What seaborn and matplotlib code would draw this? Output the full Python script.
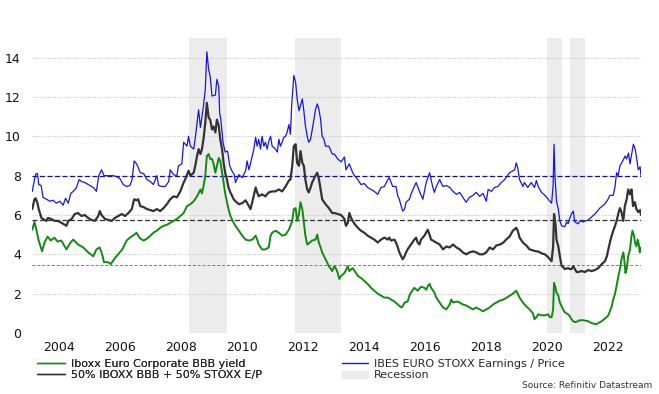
import numpy as np
import pandas as pd
import seaborn as sns
import matplotlib
matplotlib.use("Agg")
import matplotlib.pyplot as plt
from matplotlib.lines import Line2D
from matplotlib.patches import Patch

# ── Data (decimal years) ───────────────────────────────────────────────────────
blue_years = [
    2003.13, 2003.20, 2003.25, 2003.30, 2003.34, 2003.42, 2003.48, 2003.60, 2003.70, 2003.81,
    2003.92, 2004.03, 2004.14, 2004.22, 2004.31, 2004.39, 2004.47, 2004.58, 2004.66, 2004.75,
    2004.85, 2004.96, 2005.13, 2005.23, 2005.31, 2005.40, 2005.48, 2005.62, 2005.78, 2005.89,
    2006.00, 2006.11, 2006.22, 2006.33, 2006.40, 2006.47, 2006.55, 2006.67, 2006.78, 2006.89,
    2007.00, 2007.10, 2007.21, 2007.27, 2007.38, 2007.49, 2007.60, 2007.65, 2007.76, 2007.87,
    2007.92, 2008.03, 2008.09, 2008.20, 2008.25, 2008.31, 2008.42, 2008.47, 2008.53, 2008.58,
    2008.64, 2008.74, 2008.80, 2008.85, 2008.91, 2008.96, 2009.02, 2009.13, 2009.18, 2009.24,
    2009.27, 2009.31, 2009.38, 2009.45, 2009.53, 2009.60, 2009.67, 2009.75, 2009.79, 2009.90,
    2010.01, 2010.12, 2010.17, 2010.23, 2010.34, 2010.39, 2010.45, 2010.50, 2010.55, 2010.61,
    2010.66, 2010.72, 2010.77, 2010.83, 2010.88, 2010.94, 2010.99, 2011.10, 2011.16, 2011.21,
    2011.26, 2011.32, 2011.37, 2011.43, 2011.48, 2011.54, 2011.59, 2011.63, 2011.67, 2011.70,
    2011.76, 2011.81, 2011.87, 2011.98, 2012.03, 2012.08, 2012.14, 2012.19, 2012.25, 2012.30,
    2012.36, 2012.41, 2012.47, 2012.52, 2012.58, 2012.63, 2012.69, 2012.74, 2012.85, 2012.96,
    2013.03, 2013.14, 2013.25, 2013.36, 2013.41, 2013.52, 2013.63, 2013.69, 2013.80, 2013.90,
    2014.01, 2014.12, 2014.23, 2014.34, 2014.45, 2014.56, 2014.67, 2014.78, 2014.83, 2014.94,
    2015.05, 2015.11, 2015.16, 2015.22, 2015.27, 2015.33, 2015.38, 2015.49, 2015.54, 2015.65,
    2015.71, 2015.82, 2015.93, 2016.04, 2016.15, 2016.25, 2016.31, 2016.37, 2016.48, 2016.59,
    2016.70, 2016.81, 2016.92, 2017.03, 2017.14, 2017.24, 2017.35, 2017.46, 2017.57, 2017.68,
    2017.79, 2017.90, 2018.01, 2018.07, 2018.18, 2018.28, 2018.39, 2018.50, 2018.61, 2018.77,
    2018.94, 2018.99, 2019.04, 2019.10, 2019.21, 2019.26, 2019.37, 2019.48, 2019.59, 2019.65,
    2019.71, 2019.82, 2019.93, 2020.04, 2020.15, 2020.20, 2020.23, 2020.26, 2020.29, 2020.31,
    2020.37, 2020.42, 2020.48, 2020.58, 2020.64, 2020.69, 2020.75, 2020.80, 2020.86, 2020.91,
    2021.02, 2021.08, 2021.18, 2021.35, 2021.46, 2021.57, 2021.73, 2021.89, 2022.00, 2022.06,
    2022.17, 2022.23, 2022.28, 2022.33, 2022.39, 2022.50, 2022.56, 2022.61, 2022.67, 2022.72,
    2022.77, 2022.83, 2022.89, 2022.94, 2022.99, 2023.05, 2023.08,
]
blue_ep = [
    7.2, 7.8, 8.1, 8.1, 7.55, 7.5, 6.9, 6.8, 6.7, 6.75,
    6.6, 6.7, 6.5, 6.85, 6.6, 7.1, 7.2, 7.4, 7.8, 7.7,
    7.65, 7.55, 7.4, 7.2, 8.0, 8.3, 8.0, 8.0, 8.0, 7.95,
    7.85, 7.55, 7.45, 7.5, 7.8, 8.75, 8.6, 8.15, 8.1, 7.8,
    7.7, 7.55, 8.0, 7.5, 7.45, 7.45, 7.7, 8.3, 8.05, 8.0,
    8.5, 8.6, 9.7, 9.5, 10.0, 9.5, 9.35, 9.9, 10.7, 11.35,
    10.45, 11.55, 12.4, 14.3, 13.4, 13.05, 12.05, 12.1, 12.9, 12.55,
    11.2, 10.85, 9.7, 9.2, 9.25, 8.5, 8.25, 8.05, 7.65, 8.05,
    7.9, 8.25, 8.75, 8.3, 9.0, 9.35, 9.95, 9.5, 9.85, 9.35,
    10.0, 9.5, 9.7, 9.35, 9.75, 10.0, 9.5, 9.35, 9.2, 9.85,
    9.5, 9.7, 9.95, 10.0, 10.2, 10.6, 10.1, 11.55, 12.4, 13.1,
    12.75, 11.9, 11.3, 11.9, 11.3, 10.55, 10.0, 9.7, 9.85, 10.3,
    10.85, 11.35, 11.65, 11.4, 10.85, 10.0, 9.85, 9.5, 9.5, 9.1,
    9.1, 8.85, 8.7, 8.95, 8.3, 8.6, 8.15, 8.0, 7.8, 7.55,
    7.6, 7.4, 7.3, 7.2, 7.05, 7.4, 7.45, 7.8, 7.9, 7.45,
    7.45, 6.95, 6.8, 6.45, 6.2, 6.3, 6.65, 6.8, 7.05, 7.45,
    7.65, 7.2, 6.8, 7.65, 8.15, 7.45, 7.15, 7.45, 7.8, 7.45,
    7.5, 7.4, 7.2, 7.05, 7.15, 6.9, 6.65, 6.9, 7.0, 7.15,
    6.95, 7.1, 6.7, 7.3, 7.2, 7.4, 7.45, 7.65, 7.8, 8.15,
    8.3, 8.65, 8.4, 7.8, 7.45, 7.65, 7.4, 7.65, 7.4, 7.75,
    7.45, 7.15, 7.0, 6.8, 6.6, 7.5, 9.6, 8.0, 7.2, 6.7,
    6.3, 5.7, 5.45, 5.4, 5.65, 5.55, 5.85, 6.05, 6.2, 5.65,
    5.55, 5.7, 5.65, 5.75, 5.9, 6.05, 6.35, 6.55, 6.8, 7.0,
    7.0, 7.45, 8.15, 8.0, 8.5, 8.8, 9.0, 8.85, 9.15, 8.6,
    9.05, 9.6, 9.35, 8.85, 8.3, 8.45, 8.0,
]

green_years = [
    2003.13, 2003.20, 2003.27, 2003.34, 2003.45, 2003.53, 2003.63, 2003.74, 2003.85, 2003.96,
    2004.08, 2004.25, 2004.36, 2004.47, 2004.63, 2004.80, 2004.96, 2005.13, 2005.23, 2005.34,
    2005.42, 2005.48, 2005.62, 2005.70, 2005.81, 2005.94, 2006.08, 2006.22, 2006.33, 2006.47,
    2006.55, 2006.60, 2006.67, 2006.78, 2006.89, 2007.00, 2007.10, 2007.21, 2007.32, 2007.43,
    2007.54, 2007.65, 2007.76, 2007.87, 2007.98, 2008.09, 2008.20, 2008.31, 2008.42, 2008.53,
    2008.64, 2008.69, 2008.74, 2008.80, 2008.85, 2008.91, 2008.96, 2009.02, 2009.07, 2009.13,
    2009.18, 2009.24, 2009.29, 2009.35, 2009.40, 2009.45, 2009.51, 2009.56, 2009.62, 2009.73,
    2009.79, 2009.90, 2010.01, 2010.12, 2010.23, 2010.34, 2010.45, 2010.50, 2010.55, 2010.66,
    2010.77, 2010.88, 2010.94, 2010.99, 2011.10, 2011.21, 2011.32, 2011.43, 2011.54, 2011.65,
    2011.70, 2011.76, 2011.81, 2011.87, 2011.92, 2011.98, 2012.03, 2012.08, 2012.14, 2012.19,
    2012.30, 2012.41, 2012.47, 2012.52, 2012.58, 2012.63, 2012.74, 2012.85, 2012.96, 2013.03,
    2013.09, 2013.14, 2013.19, 2013.25, 2013.36, 2013.47, 2013.52, 2013.63, 2013.74, 2013.80,
    2013.90, 2014.01, 2014.12, 2014.23, 2014.34, 2014.45, 2014.56, 2014.67, 2014.78, 2014.89,
    2015.00, 2015.11, 2015.22, 2015.27, 2015.33, 2015.43, 2015.49, 2015.54, 2015.65, 2015.76,
    2015.87, 2015.98, 2016.04, 2016.10, 2016.15, 2016.20, 2016.31, 2016.37, 2016.48, 2016.59,
    2016.70, 2016.81, 2016.86, 2016.92, 2017.03, 2017.14, 2017.24, 2017.35, 2017.46, 2017.57,
    2017.68, 2017.79, 2017.90, 2018.01, 2018.12, 2018.23, 2018.34, 2018.46, 2018.57, 2018.68,
    2018.88, 2018.99, 2019.04, 2019.10, 2019.21, 2019.32, 2019.43, 2019.54, 2019.59, 2019.65,
    2019.71, 2019.82, 2019.93, 2020.04, 2020.09, 2020.15, 2020.20, 2020.23, 2020.28, 2020.31,
    2020.37, 2020.42, 2020.48, 2020.53, 2020.58, 2020.69, 2020.75, 2020.80, 2020.86, 2020.91,
    2021.02, 2021.08, 2021.18, 2021.35, 2021.46, 2021.62, 2021.79, 2021.95, 2022.01, 2022.06,
    2022.12, 2022.17, 2022.23, 2022.28, 2022.34, 2022.39, 2022.44, 2022.50, 2022.53, 2022.57,
    2022.61, 2022.66, 2022.72, 2022.77, 2022.80, 2022.85, 2022.88, 2022.93, 2022.97, 2023.01,
    2023.04, 2023.08,
]
green_bbb = [
    5.25, 5.65, 5.2, 4.7, 4.15, 4.6, 4.9, 4.7, 4.85, 4.65,
    4.7, 4.25, 4.55, 4.75, 4.5, 4.35, 4.1, 3.9, 4.25, 4.35,
    4.0, 3.6, 3.6, 3.5, 3.75, 4.0, 4.25, 4.7, 4.85, 5.0,
    5.1, 4.95, 4.8, 4.7, 4.8, 4.95, 5.1, 5.2, 5.35, 5.45,
    5.5, 5.6, 5.7, 5.8, 5.95, 6.1, 6.45, 6.55, 6.7, 6.95,
    7.3, 7.1, 7.45, 8.0, 9.0, 9.1, 8.85, 8.85, 8.6, 8.15,
    8.5, 8.9, 8.75, 8.15, 7.65, 7.1, 6.65, 6.3, 5.95, 5.6,
    5.45, 5.2, 4.95, 4.75, 4.7, 4.75, 4.95, 4.75, 4.5, 4.25,
    4.25, 4.35, 4.95, 5.1, 5.2, 5.1, 4.95, 5.0, 5.25, 5.7,
    6.3, 6.35, 5.7, 6.05, 6.65, 6.3, 5.6, 4.95, 4.5, 4.55,
    4.7, 4.75, 5.0, 4.6, 4.35, 4.1, 3.75, 3.4, 3.15, 3.4,
    3.25, 3.05, 2.75, 2.9, 3.05, 3.4, 3.15, 3.3, 3.05, 2.9,
    2.8, 2.65, 2.5, 2.3, 2.15, 2.0, 1.9, 1.8, 1.8, 1.7,
    1.6, 1.45, 1.3, 1.35, 1.55, 1.6, 1.9, 2.05, 2.3, 2.15,
    2.35, 2.3, 2.2, 2.4, 2.5, 2.3, 2.05, 1.8, 1.55, 1.3,
    1.2, 1.45, 1.7, 1.55, 1.6, 1.55, 1.45, 1.4, 1.3, 1.2,
    1.3, 1.2, 1.1, 1.2, 1.3, 1.45, 1.55, 1.65, 1.7, 1.8,
    2.0, 2.15, 2.0, 1.8, 1.55, 1.35, 1.2, 1.0, 0.7, 0.8,
    0.95, 0.9, 0.9, 0.95, 0.8, 0.8, 1.2, 2.55, 2.3, 2.05,
    1.9, 1.55, 1.35, 1.2, 1.05, 0.95, 0.85, 0.7, 0.6, 0.55,
    0.6, 0.65, 0.65, 0.6, 0.5, 0.45, 0.6, 0.8, 0.9, 1.1,
    1.35, 1.7, 2.0, 2.4, 2.9, 3.25, 3.75, 4.1, 3.75, 3.05,
    3.25, 3.9, 4.25, 4.95, 5.2, 4.95, 4.6, 4.4, 4.75, 4.5,
    4.1, 4.35,
]

mix_years = [
    2003.13, 2003.20, 2003.24, 2003.30, 2003.34, 2003.43, 2003.48, 2003.59, 2003.64, 2003.75,
    2003.86, 2003.97, 2004.09, 2004.20, 2004.25, 2004.31, 2004.42, 2004.52, 2004.63, 2004.74,
    2004.85, 2004.96, 2005.07, 2005.18, 2005.29, 2005.34, 2005.40, 2005.51, 2005.62, 2005.73,
    2005.84, 2005.95, 2006.06, 2006.17, 2006.28, 2006.39, 2006.47, 2006.55, 2006.60, 2006.67,
    2006.78, 2006.89, 2007.00, 2007.10, 2007.21, 2007.32, 2007.43, 2007.54, 2007.65, 2007.76,
    2007.87, 2007.98, 2008.09, 2008.14, 2008.20, 2008.25, 2008.31, 2008.42, 2008.47, 2008.53,
    2008.58, 2008.64, 2008.69, 2008.74, 2008.80, 2008.85, 2008.91, 2008.96, 2009.02, 2009.07,
    2009.13, 2009.18, 2009.24, 2009.29, 2009.35, 2009.40, 2009.45, 2009.51, 2009.56, 2009.62,
    2009.67, 2009.73, 2009.79, 2009.90, 2010.01, 2010.12, 2010.23, 2010.28, 2010.34, 2010.45,
    2010.50, 2010.55, 2010.66, 2010.77, 2010.88, 2010.99, 2011.10, 2011.21, 2011.32, 2011.43,
    2011.54, 2011.59, 2011.65, 2011.70, 2011.76, 2011.81, 2011.87, 2011.92, 2011.98, 2012.03,
    2012.08, 2012.14, 2012.19, 2012.25, 2012.30, 2012.41, 2012.47, 2012.52, 2012.58, 2012.63,
    2012.74, 2012.85, 2012.96, 2013.03, 2013.14, 2013.25, 2013.36, 2013.41, 2013.47, 2013.52,
    2013.58, 2013.63, 2013.69, 2013.80, 2013.90, 2014.01, 2014.12, 2014.23, 2014.34, 2014.45,
    2014.56, 2014.67, 2014.78, 2014.83, 2014.89, 2015.00, 2015.05, 2015.11, 2015.16, 2015.22,
    2015.27, 2015.33, 2015.38, 2015.43, 2015.54, 2015.65, 2015.71, 2015.76, 2015.82, 2015.87,
    2015.98, 2016.09, 2016.15, 2016.20, 2016.31, 2016.37, 2016.48, 2016.59, 2016.70, 2016.81,
    2016.92, 2017.03, 2017.14, 2017.24, 2017.35, 2017.46, 2017.57, 2017.68, 2017.79, 2017.90,
    2018.01, 2018.12, 2018.23, 2018.34, 2018.46, 2018.57, 2018.66, 2018.77, 2018.88, 2018.99,
    2019.04, 2019.10, 2019.21, 2019.32, 2019.43, 2019.54, 2019.65, 2019.71, 2019.82, 2019.93,
    2020.04, 2020.15, 2020.20, 2020.23, 2020.28, 2020.31, 2020.37, 2020.42, 2020.48, 2020.53,
    2020.58, 2020.69, 2020.75, 2020.80, 2020.86, 2020.91, 2020.97, 2021.02, 2021.13, 2021.24,
    2021.35, 2021.46, 2021.57, 2021.68, 2021.79, 2021.90, 2021.96, 2022.01, 2022.06, 2022.12,
    2022.17, 2022.23, 2022.28, 2022.34, 2022.39, 2022.44, 2022.50, 2022.55, 2022.61, 2022.66,
    2022.72, 2022.77, 2022.82, 2022.88, 2022.93, 2022.99, 2023.05, 2023.08,
]
mix_vals = [
    6.3, 6.8, 6.85, 6.6, 6.3, 5.85, 5.8, 5.7, 5.85, 5.8,
    5.7, 5.7, 5.6, 5.5, 5.45, 5.7, 5.8, 6.05, 6.1, 5.95,
    6.0, 5.85, 5.75, 5.7, 5.95, 6.2, 6.0, 5.8, 5.75, 5.7,
    5.85, 5.95, 6.05, 5.95, 6.1, 6.3, 6.8, 6.75, 6.8, 6.45,
    6.4, 6.3, 6.25, 6.2, 6.3, 6.2, 6.35, 6.55, 6.8, 6.95,
    6.9, 7.2, 7.65, 7.8, 8.05, 8.25, 8.0, 8.15, 8.5, 9.0,
    9.35, 9.1, 9.35, 9.85, 10.7, 11.7, 10.95, 10.85, 10.35, 10.5,
    10.2, 10.85, 10.55, 9.85, 9.35, 8.65, 8.15, 7.8, 7.4, 7.15,
    7.0, 6.8, 6.7, 6.55, 6.6, 6.75, 6.45, 6.3, 6.65, 7.4,
    7.15, 6.95, 7.05, 6.95, 7.15, 7.2, 7.2, 7.3, 7.2, 7.45,
    7.75, 7.8, 8.5, 9.5, 9.6, 8.65, 8.5, 9.25, 8.65, 8.5,
    7.8, 7.3, 7.15, 7.4, 7.65, 8.0, 8.15, 7.85, 7.3, 6.8,
    6.55, 6.35, 6.1, 6.1, 6.05, 6.0, 5.8, 5.45, 5.6, 6.1,
    5.85, 5.7, 5.55, 5.35, 5.2, 5.1, 4.95, 4.85, 4.75, 4.6,
    4.75, 4.85, 4.75, 4.85, 4.7, 4.75, 4.6, 4.35, 4.1, 3.9,
    3.75, 3.9, 4.1, 4.25, 4.5, 4.75, 4.85, 4.6, 4.5, 4.75,
    4.95, 5.25, 5.0, 4.75, 4.65, 4.6, 4.5, 4.25, 4.4, 4.35,
    4.5, 4.35, 4.25, 4.1, 4.0, 4.1, 4.15, 4.1, 4.0, 4.0,
    4.1, 4.35, 4.25, 4.45, 4.5, 4.6, 4.75, 4.9, 5.2, 5.35,
    5.2, 4.85, 4.6, 4.45, 4.25, 4.2, 4.15, 4.15, 4.05, 4.0,
    3.85, 3.65, 4.4, 6.05, 5.5, 4.75, 4.4, 3.9, 3.4, 3.35,
    3.25, 3.3, 3.25, 3.25, 3.4, 3.25, 3.1, 3.1, 3.15, 3.1,
    3.2, 3.15, 3.2, 3.3, 3.5, 3.65, 3.9, 4.25, 4.6, 4.95,
    5.2, 5.45, 5.7, 6.1, 6.35, 6.15, 5.7, 6.45, 6.8, 7.3,
    7.05, 7.3, 6.45, 6.65, 6.3, 6.15, 6.25, 6.0,
]

# long-run averages (dashed lines)
avg_blue, avg_mix, avg_green = 8.0, 5.73, 3.46

# recession periods
rec_start = [2008.25, 2011.75, 2020.0, 2020.75]
rec_end = [2009.5, 2013.25, 2020.5, 2021.25]

year_ticks = [2004, 2006, 2008, 2010, 2012, 2014, 2016, 2018, 2020, 2022]
y_ticks = [0, 2, 4, 6, 8, 10, 12, 14]

labels = {
    "green": "Iboxx Euro Corporate BBB yield",
    "mix": "50% IBOXX BBB + 50% STOXX E/P",
    "blue": "IBES EURO STOXX Earnings / Price",
    "rec": "Recession",
}

C_BLUE, C_GREEN, C_MIX, C_REC = "#1414f2", "#128a12", "#333333", "#ececec"

# ── Plot ───────────────────────────────────────────────────────────────────────
sns.set_style("white")
plt.rcParams["font.family"] = ["DejaVu Sans"]

fig = plt.figure(figsize=(6.59, 3.94), dpi=100)
ax = fig.add_axes([32 / 659, 1 - 333 / 394, 609 / 659, 295 / 394])

for s, e in zip(rec_start, rec_end):
    ax.axvspan(s, e, color=C_REC, lw=0, zorder=0)

for yv in y_ticks:
    ax.axhline(yv, color="#cdcdcd", lw=0.8, ls=(0, (1, 1)), zorder=1)

ax.axhline(avg_blue, color="#10109a", lw=0.9, ls=(0, (4, 2)), zorder=2)
ax.axhline(avg_mix, color="#333333", lw=0.9, ls=(0, (4, 2)), zorder=2)
ax.axhline(avg_green, color="#3a9a62", lw=0.7, ls=(0, (3, 2)), zorder=2)

sns.lineplot(x=green_years, y=green_bbb, ax=ax, color=C_GREEN, lw=1.4, zorder=3)
sns.lineplot(x=mix_years, y=mix_vals, ax=ax, color=C_MIX, lw=1.6, zorder=4)
sns.lineplot(x=blue_years, y=blue_ep, ax=ax, color=C_BLUE, lw=0.9, zorder=5)

ax.set_xlim(2003.12, 2023.08)
ax.set_ylim(0, 15)
ax.set_xticks(year_ticks)
ax.set_xticklabels([str(y) for y in year_ticks])
ax.set_yticks(y_ticks)
ax.tick_params(axis="both", length=0, labelsize=9, colors="#111111")
ax.tick_params(axis="y", pad=8)
ax.tick_params(axis="x", pad=6)
ax.set_xlabel("")
ax.set_ylabel("")
for sp in ax.spines.values():
    sp.set_visible(False)

leg_kw = dict(frameon=False, fontsize=8, borderpad=0, borderaxespad=0,
              labelspacing=0.15, handletextpad=0.55, loc="center left")
leg1 = fig.legend(
    [Line2D([], [], color=C_GREEN, lw=1.0), Line2D([], [], color=C_MIX, lw=1.0)],
    [labels["green"], labels["mix"]],
    bbox_to_anchor=(37 / 659, 1 - 369.5 / 394), handlelength=2.5, **leg_kw,
)
leg2 = fig.legend(
    [Line2D([], [], color=C_BLUE, lw=1.0), Patch(color=C_REC)],
    [labels["blue"], labels["rec"]],
    bbox_to_anchor=(342 / 659, 1 - 369.5 / 394), handlelength=2.35, **leg_kw,
)
fig.add_artist(leg1)

fig.text(652 / 659, 1 - 386 / 394, "Source: Refinitiv Datastream",
         ha="right", va="center", fontsize=6.5, color="#333333")

fig.savefig("out.png", dpi=100)
plt.close(fig)
